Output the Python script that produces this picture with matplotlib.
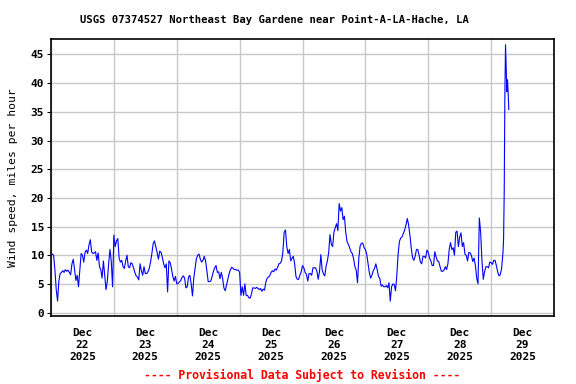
import matplotlib
matplotlib.use('Agg')
import matplotlib.pyplot as plt
import matplotlib.dates as mdates
from matplotlib.ticker import NullFormatter
import pandas as pd

plt.rcParams['font.family'] = 'DejaVu Sans Mono'
plt.rcParams['font.weight'] = 'bold'
plt.rcParams['font.size'] = 7.9

TITLE = 'USGS 07374527 Northeast Bay Gardene near Point-A-LA-Hache, LA'
YLABEL = 'Wind speed, miles per hour'
FOOTER = '---- Provisional Data Subject to Revision ----'

# wind speed (mph), 30-minute readings starting at midnight of each day
dec22 = [10.3, 10.2, 10.0, 7.4, 4.0, 2.0, 5.5, 6.8, 7.0, 7.3, 7.0, 7.5, 7.2, 7.4, 7.0, 6.6,
         8.5, 9.3, 7.4, 5.6, 6.5, 4.5, 7.5, 10.3, 10.0, 8.8, 10.5, 10.9, 10.3, 11.8, 12.7, 10.6,
         10.3, 10.4, 10.6, 9.1, 10.4, 8.0, 7.5, 6.0, 9.0, 6.5, 4.0, 5.5, 8.5, 11.0, 9.0, 4.5]
dec23 = [13.5, 11.5, 12.5, 12.9, 9.5, 8.8, 9.1, 8.0, 7.7, 9.0, 10.0, 8.0, 7.8, 8.7, 8.5, 7.8,
         7.0, 6.4, 6.2, 5.7, 8.5, 7.3, 6.5, 8.0, 6.8, 6.8, 7.1, 7.7, 8.8, 10.3, 12.0, 12.5,
         11.5, 10.5, 9.3, 10.7, 10.5, 9.6, 8.5, 7.8, 8.5, 3.6, 9.0, 8.7, 7.6, 6.3, 5.5, 6.3]
dec24 = [5.0, 5.1, 5.3, 5.6, 6.1, 6.4, 6.0, 4.3, 4.5, 6.2, 6.5, 5.0, 2.9, 6.0, 7.7, 9.4,
         10.0, 10.2, 9.3, 8.8, 9.1, 9.8, 9.0, 7.3, 5.4, 5.4, 5.5, 6.3, 7.2, 7.8, 8.2, 7.0,
         7.1, 5.9, 7.0, 6.0, 4.3, 3.8, 4.8, 5.8, 6.8, 7.5, 7.9, 7.7, 7.5, 7.5, 7.4, 7.4]
dec25 = [7.0, 3.0, 4.5, 3.0, 5.0, 3.0, 3.0, 2.6, 2.5, 3.2, 4.3, 4.3, 4.2, 4.4, 4.2, 4.0,
         4.2, 3.7, 4.1, 3.9, 5.3, 6.0, 6.2, 6.4, 7.0, 7.3, 7.1, 7.6, 7.4, 7.9, 8.5, 8.6,
         9.0, 10.5, 14.0, 14.4, 11.5, 10.3, 11.0, 9.0, 9.5, 9.8, 8.5, 6.3, 5.8, 5.8, 6.5, 7.1]
dec26 = [8.2, 7.8, 7.0, 6.7, 5.5, 6.8, 6.8, 6.5, 7.8, 7.8, 7.8, 7.2, 5.8, 7.2, 10.1, 7.5,
         6.7, 6.4, 8.1, 9.0, 10.5, 13.6, 11.9, 11.5, 14.0, 14.8, 15.5, 14.3, 19.0, 17.7, 18.3, 16.2,
         16.8, 14.0, 12.4, 11.9, 11.3, 10.6, 10.3, 9.4, 8.0, 7.4, 5.2, 9.5, 11.6, 12.1, 12.1, 11.3]
dec27 = [11.0, 10.2, 8.6, 7.0, 6.0, 6.5, 7.3, 7.7, 8.5, 7.5, 6.3, 6.0, 4.6, 4.8, 4.5, 4.5,
         4.7, 4.3, 5.2, 2.0, 4.5, 5.0, 4.9, 3.8, 6.5, 10.2, 12.4, 13.0, 13.2, 13.8, 14.4, 15.3,
         16.4, 15.3, 13.5, 11.3, 9.6, 9.1, 9.8, 11.0, 11.0, 10.0, 8.8, 8.5, 9.8, 9.8, 9.5, 10.9]
dec28 = [10.5, 9.5, 9.0, 8.2, 8.2, 10.6, 9.7, 9.0, 8.9, 8.0, 7.2, 7.2, 7.4, 8.0, 7.5, 8.5,
         11.0, 12.2, 11.0, 11.3, 10.0, 14.0, 14.2, 11.5, 13.2, 13.9, 11.5, 12.2, 10.2, 10.0, 9.0, 10.5,
         10.4, 9.9, 8.9, 9.5, 8.2, 6.0, 5.0, 16.5, 14.0, 9.0, 5.8, 7.1, 8.0, 8.0, 7.8, 8.8]
dec29 = [8.7, 8.4, 9.1, 9.1, 8.2, 7.1, 6.4, 6.6, 7.7, 10.3]
# 15-minute readings from Dec 29 04:45
dec29_gust = [12.7, 21.1, 38.3, 46.7, 42.9, 38.5, 40.6, 38.3, 35.4]

main = dec22 + dec23 + dec24 + dec25 + dec26 + dec27 + dec28 + dec29
t_main = pd.date_range('2025-12-22 00:00', periods=len(main), freq='30min')
t_gust = pd.date_range('2025-12-29 04:45', periods=len(dec29_gust), freq='15min')
times = t_main.append(t_gust)
values = main + dec29_gust

fig = plt.figure(figsize=(5.76, 3.84), dpi=100)
ax = fig.add_axes([51 / 576, 1 - 316 / 384, 503 / 576, 277 / 384])
ax.plot(times, values, color='#0000ff', lw=0.8)

ax.set_xlim(pd.Timestamp('2025-12-22'), pd.Timestamp('2025-12-30'))
ax.set_ylim(-0.6, 47.7)
ax.set_yticks(range(0, 50, 5))

ax.xaxis.set_major_locator(mdates.DayLocator())
ax.xaxis.set_major_formatter(NullFormatter())
ax.xaxis.set_minor_locator(mdates.HourLocator(byhour=12))
ax.xaxis.set_minor_formatter(mdates.DateFormatter('%b\n%d\n%Y'))
ax.tick_params(axis='x', which='both', length=0)
ax.tick_params(axis='x', which='minor', pad=9, labelsize=8.0)
ax.tick_params(axis='y', length=3, pad=2, labelsize=8.0)

ax.grid(True, which='major', color='#c8c8c8', lw=1)
ax.set_axisbelow(True)
for s in ax.spines.values():
    s.set_linewidth(1.2)

ax.set_ylabel(YLABEL, labelpad=9, fontsize=8.2)
fig.text(274 / 576, 1 - 20 / 384, TITLE, ha='center', va='center', fontsize=7.6)
fig.text(302 / 576, 1 - 375 / 384, FOOTER, ha='center', va='center', color='red', fontsize=8.3)

fig.savefig('out.png', dpi=100)
